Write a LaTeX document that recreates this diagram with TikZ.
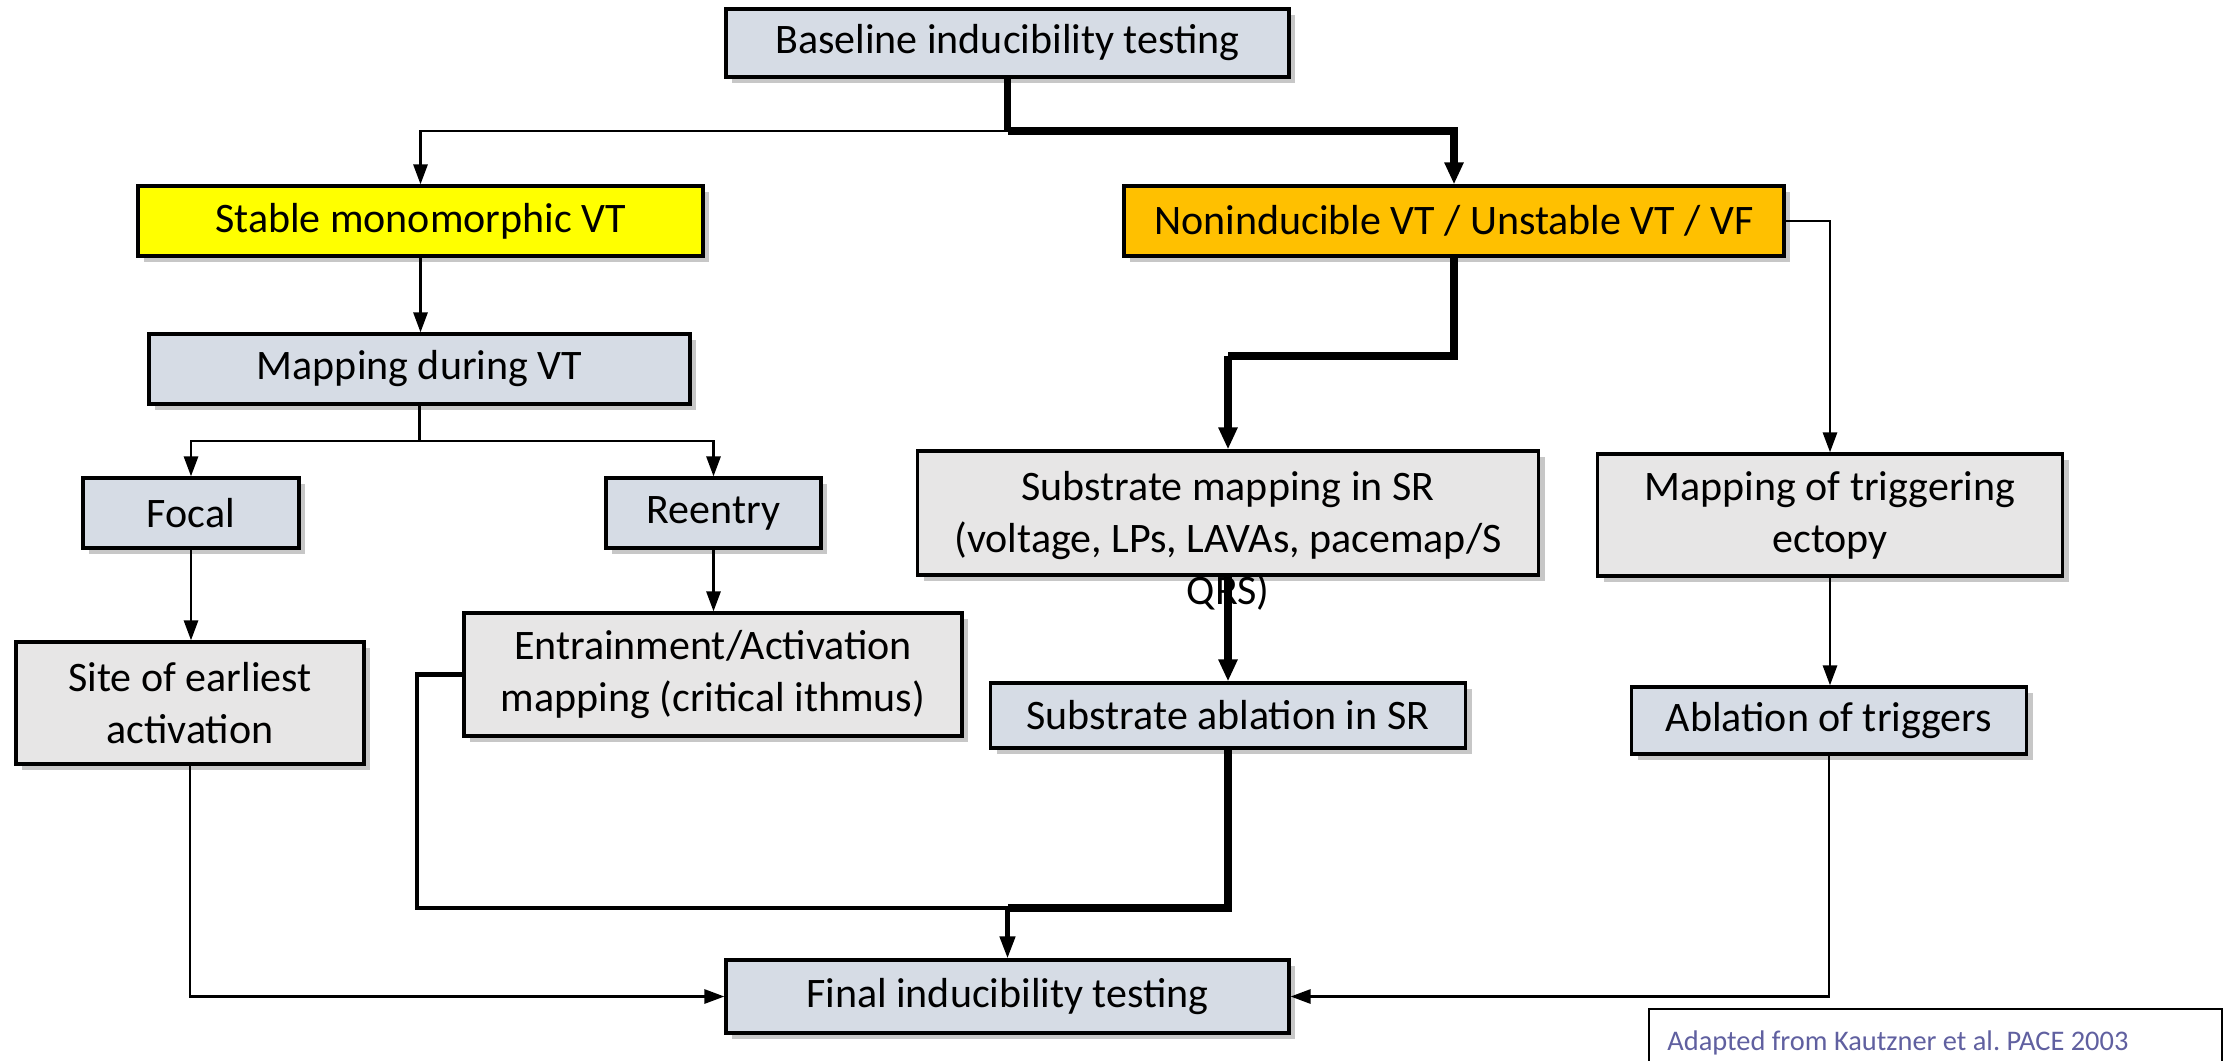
\documentclass[tikz,border=0pt]{standalone}
\usepackage{fontspec}
\setmainfont{Carlito}
\usetikzlibrary{arrows.meta,shadows}
\definecolor{bluegrey}{HTML}{D6DCE5}
\definecolor{lightgrey}{HTML}{E7E6E6}
\definecolor{yel}{HTML}{FFFF00}
\definecolor{ora}{HTML}{FFC000}
\definecolor{srccol}{RGB}{96,96,160}
\tikzset{
  x=0.5pt, y=-0.5pt,
  box/.style={draw=black, line width=1.6pt, inner sep=0pt, align=center,
    font=\fontsize{21}{26}\selectfont,
    drop shadow={shadow xshift=3pt, shadow yshift=-3pt, fill=black, opacity=0.22}},
  bgbox/.style={box, fill=bluegrey},
  lgbox/.style={box, fill=lightgrey},
  thinline/.style={line width=1.4pt},
  thickline/.style={line width=3.6pt},
  midline/.style={line width=2.2pt},
  thinarrow/.style={thinline, -{Triangle[length=10pt,width=7pt]}},
  thickarrow/.style={thickline, -{Triangle[length=11pt,width=9pt]}},
  midarrow/.style={midline, -{Triangle[length=11pt,width=7.5pt]}},
}
\begin{document}
\begin{tikzpicture}
\useasboundingbox (0,0) rectangle (2231,1060);
\fill[white] (0,0) rectangle (2231,1060);

\node[bgbox, minimum width=281.5pt, minimum height=34pt] (base) at (1007.5,43) {Baseline inducibility testing};
\node[box, fill=yel, minimum width=282.5pt, minimum height=35pt] (stable) at (420.5,221) {Stable monomorphic VT};
\node[box, fill=ora, minimum width=330pt, minimum height=35pt] (nonind) at (1454,221) {Noninducible VT / Unstable VT / VF};
\node[bgbox, minimum width=270.5pt, minimum height=35pt] (mapvt) at (419.5,369) {Mapping during VT};
\node[bgbox, minimum width=108pt, minimum height=35pt] (focal) at (191,513) {Focal};
\node[bgbox, minimum width=107.5pt, minimum height=35pt] (reentry) at (713.5,513) {Reentry};
\node[lgbox, minimum width=174pt, minimum height=61pt] (site) at (190,703) {Site of earliest\\activation};
\node[lgbox, minimum width=249pt, minimum height=61.5pt] (entr) at (713,674.5) {Entrainment/Activation\\mapping (critical ithmus)};
\node[lgbox, minimum width=310.5pt, minimum height=62pt] (smap) at (1228,513) {};
\node[align=center, inner sep=0pt, font=\fontsize{21}{26}\selectfont] (smaptxt) at (1228,541) {Substrate mapping in SR\\(voltage, LPs, LAVAs, pacemap/S\\QRS)};
\node[lgbox, minimum width=232.5pt, minimum height=61pt] (trig) at (1830,515) {Mapping of triggering\\ectopy};
\node[bgbox, minimum width=237.5pt, minimum height=32.5pt] (sabl) at (1228,715.5) {Substrate ablation in SR};
\node[bgbox, minimum width=197.5pt, minimum height=33.5pt] (ablt) at (1829,720.5) {Ablation of triggers};
\node[bgbox, minimum width=281.5pt, minimum height=36.5pt] (final) at (1007.5,996.5) {Final inducibility testing};

\draw[line width=1pt, fill=white] (1649,1009) rectangle (2222,1080);
\node[anchor=west, inner sep=0pt, text=srccol, font=\fontsize{14.2}{17}\selectfont] (src) at (1667,1043) {Adapted from Kautzner et al.\ PACE 2003};

% connectors
\coordinate (j1) at (1007.5,131);
\coordinate (j2) at (419.5,441);
\coordinate (j3) at (1007.5,908);
\coordinate (j5) at (1228,356);
\coordinate (j4) at (417,908);

\draw[thinarrow] (j1) -| (stable.north);
\draw[thickline] (base.south) -- (j1);
\draw[thickarrow] (j1) -| (nonind.north);
\draw[thinarrow] (stable.south) -- (stable.south |- mapvt.north);
\draw[thinline] (mapvt.south) -- (j2);
\draw[thinarrow] (j2) -| (focal.north);
\draw[thinarrow] (j2) -| (reentry.north);
\draw[thinarrow] (focal.south) -- (focal.south |- site.north);
\draw[thinarrow] (reentry.south) -- (reentry.south |- entr.north);
\draw[thickline] (nonind.south) |- (j5);
\draw[thickarrow] (j5) -- (smap.north);
\draw[thinarrow] (nonind.east) -| (trig.north);
\draw[thickarrow] (smap.south) -- (sabl.north);
\draw[thinarrow] (trig.south) -- (trig.south |- ablt.north);
\draw[midline] (entr.west) -| (j4) -- (j3);
\draw[thickline] (sabl.south) |- (j3);
\draw[midarrow] (j3) -- (final.north);
\draw[thinarrow] (site.south) |- (final.west);
\draw[thinarrow] (ablt.south) |- (final.east);
\end{tikzpicture}
\end{document}
